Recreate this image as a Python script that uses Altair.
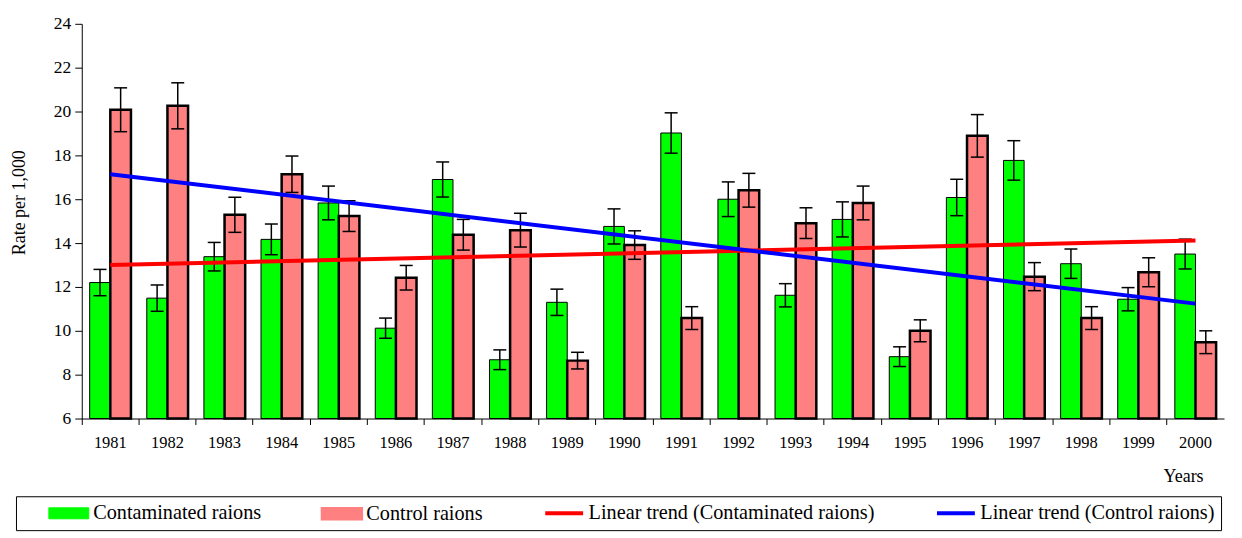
import altair as alt
import pandas as pd

years = ["1981", "1982", "1983", "1984", "1985", "1986", "1987", "1988", "1989", "1990",
         "1991", "1992", "1993", "1994", "1995", "1996", "1997", "1998", "1999", "2000"]
contaminated = [12.2, 11.49, 13.38, 14.17, 15.83, 10.12, 16.9, 8.68, 11.3, 14.76,
                19.02, 16.0, 11.62, 15.08, 8.82, 16.08, 17.77, 13.06, 11.44, 13.5]
contaminated_err = [0.6, 0.6, 0.65, 0.7, 0.77, 0.46, 0.8, 0.45, 0.6, 0.8,
                    0.92, 0.79, 0.53, 0.8, 0.45, 0.83, 0.9, 0.67, 0.53, 0.68]
control = [20.08, 20.26, 15.29, 17.14, 15.23, 12.42, 14.38, 14.59, 8.64, 13.91,
           10.58, 16.41, 14.91, 15.83, 10.0, 18.89, 12.47, 10.58, 12.67, 9.48]
control_err = [1.0, 1.05, 0.8, 0.83, 0.7, 0.56, 0.7, 0.77, 0.38, 0.65,
               0.52, 0.77, 0.7, 0.77, 0.5, 0.97, 0.64, 0.52, 0.66, 0.52]
trend_years = ["1981", "2000"]
trend_contaminated = [13.0, 14.12]
trend_control = [17.14, 11.24]

series = ["Contaminated raions", "Control raions",
          "Linear trend (Contaminated raions)", "Linear trend (Control raions)"]
colors = ["#00ff00", "#ff8080", "#ff0000", "#0000ff"]
outline_colors = ["black", "black", "#ff0000", "#0000ff"]
outline_widths = [1, 2.5, 0, 0]
y_ticks = [6, 8, 10, 12, 14, 16, 18, 20, 22, 24]

FONT = "Liberation Serif"

rows = []
for i, yr in enumerate(years):
    rows.append({"year": yr, "series": series[0], "value": contaminated[i],
                 "lo": contaminated[i] - contaminated_err[i], "hi": contaminated[i] + contaminated_err[i]})
    rows.append({"year": yr, "series": series[1], "value": control[i],
                 "lo": control[i] - control_err[i], "hi": control[i] + control_err[i]})
bars_df = pd.DataFrame(rows)

trend_rows = []
for i, yr in enumerate(trend_years):
    trend_rows.append({"year": yr, "series": series[2], "value": trend_contaminated[i]})
    trend_rows.append({"year": yr, "series": series[3], "value": trend_control[i]})
trend_df = pd.DataFrame(trend_rows)

BAR_PATH = "M-2,-0.55L2,-0.55L2,0.55L-2,0.55Z"
LINE_PATH = "M-1.9,-0.2L1.9,-0.2L1.9,0.2L-1.9,0.2Z"
shapes = [BAR_PATH, BAR_PATH, LINE_PATH, LINE_PATH]


def make_legend():
    return alt.Legend(
        title=None, orient="none", legendX=-66, legendY=474, direction="horizontal",
        columns=4, columnPadding=34, padding=6, strokeColor="black",
        symbolSize=400, symbolStrokeWidth=1, symbolStrokeColor="black", symbolFillColor="black",
        symbolOffset=35.5, labelOffset=13, symbolOpacity=1,
        labelFont=FONT, labelFontSize=20.3, labelColor="black", labelLimit=0,
    )


fill_scale = alt.Scale(domain=series, range=colors)
stroke_scale = alt.Scale(domain=series, range=outline_colors)
width_scale = alt.Scale(type="ordinal", domain=series, range=outline_widths)
shape_scale = alt.Scale(domain=series, range=shapes)

x = alt.X("year:N", scale=alt.Scale(domain=years, paddingInner=0, paddingOuter=0),
          axis=alt.Axis(title="Years", labelAngle=0, bandPosition=0, tickSize=6,
                        labelPadding=10, labelFont=FONT, labelFontSize=16.5, labelColor="black",
                        domainColor="black", tickColor="black", titleFont=FONT,
                        titleFontSize=18, titleFontWeight="normal", titleColor="black",
                        titleX=1125, titleY=58, titleAlign="right", titleBaseline="middle"))
xoff = alt.XOffset("series:N", scale=alt.Scale(domain=series[:2], paddingInner=0, paddingOuter=0.384))
y_scale = alt.Scale(domain=[6, 24], nice=False, zero=False)
y = alt.Y("value:Q", scale=y_scale,
          axis=alt.Axis(title="Rate per 1,000", values=y_ticks, grid=False, tickSize=7,
                        labelPadding=4, labelFont=FONT, labelFontSize=17.5, labelColor="black",
                        domainColor="black", tickColor="black", titleFont=FONT,
                        titleFontSize=18, titleFontWeight="normal", titleColor="black",
                        titleX=-62, titleY=179, titleBaseline="middle"))

bars = alt.Chart(bars_df).mark_bar().encode(
    x=x, xOffset=xoff, y=y, y2=alt.datum(6),
    color=alt.Color("series:N", scale=fill_scale, legend=make_legend()),
    stroke=alt.Stroke("series:N", scale=stroke_scale, legend=make_legend()),
    strokeWidth=alt.StrokeWidth("series:N", scale=width_scale, legend=make_legend()),
)

err_rule = alt.Chart(bars_df).mark_rule(color="black", strokeWidth=1.5).encode(
    x=alt.X("year:N"), xOffset=xoff, y=alt.Y("lo:Q", scale=y_scale), y2="hi:Q")
cap_hi = alt.Chart(bars_df).mark_tick(color="black", size=13, thickness=1.5, opacity=1).encode(
    x=alt.X("year:N"), xOffset=xoff, y=alt.Y("hi:Q", scale=y_scale))
cap_lo = alt.Chart(bars_df).mark_tick(color="black", size=13, thickness=1.5, opacity=1).encode(
    x=alt.X("year:N"), xOffset=xoff, y=alt.Y("lo:Q", scale=y_scale))

lines = alt.Chart(trend_df).mark_line(strokeWidth=4).encode(
    x=alt.X("year:N"), y=alt.Y("value:Q", scale=y_scale),
    color=alt.Color("series:N", scale=fill_scale, legend=None),
    detail="series:N")

# legend carrier for the swatch shapes: no rows drawn
shape_key = alt.Chart(bars_df).transform_filter("false").mark_point(filled=True, opacity=1).encode(
    shape=alt.Shape("series:N", scale=shape_scale, legend=make_legend()),
    color=alt.Color("series:N", scale=fill_scale, legend=make_legend()),
)

chart = alt.layer(bars, err_rule, cap_hi, cap_lo, lines, shape_key).properties(
    width=1146, height=396,
    autosize=alt.AutoSizeParams(type="none"),
    padding={"left": 74, "top": 15, "right": 10, "bottom": 115},
    background="white",
).configure_view(stroke=None)

chart.save("out.html", embed_options={"renderer": "svg", "actions": False})
